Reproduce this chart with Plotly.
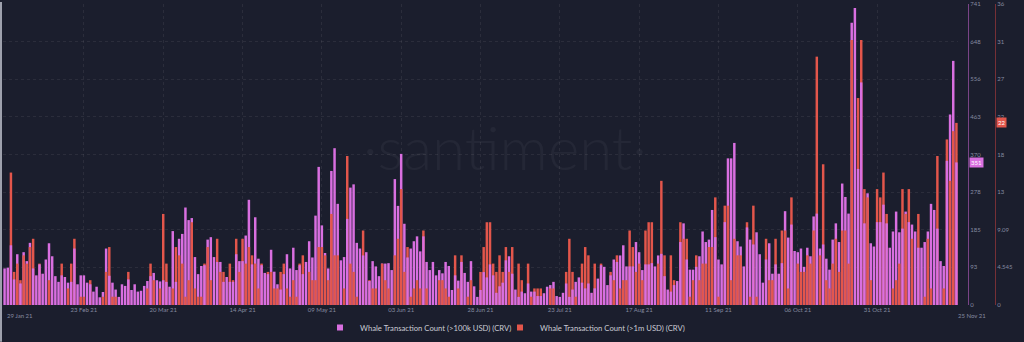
import plotly.graph_objects as go
import pandas as pd
import numpy as np

start_date = "2021-01-29"

pink_values = [
    90, 92, 147, 63, 125, 53, 130, 108, 153, 90, 73, 100, 77, 112, 152, 120, 71, 57, 73, 69,
    55, 57, 139, 51, 73, 73, 55, 51, 33, 45, 19, 32, 139, 72, 55, 38, 20, 51, 47, 63,
    37, 51, 33, 35, 47, 59, 71, 79, 61, 58,
    61, 57, 45, 182, 57, 163, 175, 240, 209, 214, 118, 76, 96, 98, 161, 167, 118, 106, 106, 57,
    69, 57, 57, 125, 108, 108, 171, 259, 100, 216, 114, 98, 79, 76, 136, 82, 51, 38, 76, 125,
    90, 141, 86, 98, 76, 106, 157, 117, 220, 340, 196,
    128, 90, 330, 386, 249, 110, 118, 212, 289, 297, 153, 139, 122, 130, 59, 108, 95, 71, 102, 102,
    103, 86, 310, 244, 372, 200, 117, 139, 157, 169, 132, 169, 106, 86, 106, 73, 86, 78, 106, 96,
    37, 73, 60, 106, 79, 57, 108, 46, 20, 37,
    81, 68, 100, 73, 30, 46, 55, 110, 120, 77, 38, 20, 33, 29, 53, 33, 33, 22, 22, 29,
    45, 49, 57, 22, 20, 30, 53, 20, 38, 57, 68, 55, 41, 53, 30, 41, 65, 98, 94, 49,
    73, 112, 106, 122, 147, 95, 95, 95, 155, 130,
    86, 100, 100, 103, 95, 122, 126, 71, 38, 33, 49, 59, 155, 201, 112, 87, 87, 94, 120, 181,
    155, 161, 234, 167, 112, 100, 204, 361, 361, 399, 157, 144, 95, 191, 161, 149, 179, 125, 55, 112,
    152, 77, 100, 77, 103, 231, 166, 198, 133, 130,
    139, 94, 141, 120, 218, 225, 139, 149, 114, 87, 161, 201, 155, 299, 266, 225, 695, 731, 335, 548,
    201, 275, 152, 144, 204, 204, 247, 201, 141, 181, 230, 179, 188, 230, 204, 198, 181, 141, 141, 155,
    181, 249, 234, 188, 108, 96, 355, 469, 601, 351,
]

red_values = [
    0, 0, 16, 4, 5, 3, 6, 5, 7, 8, 0, 5, 0, 0, 3, 0, 0, 0, 5, 0,
    2, 5, 8, 0, 1, 1, 0, 3, 0, 0, 0, 1, 4, 7, 1, 1, 0, 0, 0, 4,
    0, 0, 0, 0, 0, 2, 5, 3, 0, 2,
    11, 5, 0, 2, 7, 6, 5, 1, 3, 10, 2, 1, 1, 5, 7, 3, 0, 8, 4, 4,
    0, 5, 3, 8, 4, 8, 5, 7, 6, 5, 2, 5, 0, 4, 4, 2, 2, 4, 5, 2,
    1, 3, 1, 5, 6, 0, 4, 3, 3, 7, 7,
    6, 3, 11, 6, 6, 0, 2, 18, 5, 4, 1, 0, 9, 0, 3, 2, 2, 0, 5, 3,
    2, 0, 6, 8, 14, 4, 7, 1, 2, 3, 2, 9, 2, 0, 0, 0, 3, 3, 2, 1,
    0, 6, 2, 6, 0, 1, 3, 0, 0, 4,
    7, 10, 10, 5, 4, 6, 4, 7, 4, 7, 0, 5, 3, 0, 5, 1, 2, 2, 2, 0,
    0, 2, 2, 0, 0, 0, 4, 8, 4, 1, 0, 5, 7, 6, 0, 5, 0, 5, 0, 0,
    4, 3, 6, 2, 3, 3, 9, 7, 4, 5,
    3, 9, 10, 10, 0, 5, 15, 6, 0, 6, 3, 0, 10, 8, 8, 1, 3, 6, 3, 5,
    5, 7, 7, 13, 1, 0, 12, 12, 3, 8, 6, 6, 0, 10, 1, 12, 1, 0, 0, 8,
    3, 3, 8, 0, 9, 9, 2, 13, 0, 5,
    4, 4, 6, 5, 9, 30, 6, 17, 3, 2, 5, 8, 4, 9, 9, 5, 32, 0, 25, 32,
    14, 13, 3, 0, 14, 13, 16, 11, 0, 2, 3, 5, 14, 11, 14, 8, 0, 11, 0, 1,
    8, 2, 0, 18, 0, 2, 20, 15, 21, 22,
]

x_tick_dates = ["2021-02-23", "2021-03-20", "2021-04-14", "2021-05-09", "2021-06-03",
                "2021-06-28", "2021-07-23", "2021-08-17", "2021-09-11", "2021-10-06", "2021-10-31"]
x_tick_text = ["23 Feb 21", "20 Mar 21", "14 Apr 21", "09 May 21", "03 Jun 21",
               "28 Jun 21", "23 Jul 21", "17 Aug 21", "11 Sep 21", "06 Oct 21", "31 Oct 21"]
x_edge_dates = ["2021-01-29", "2021-11-25"]
x_edge_text = ["29 Jan 21", "25 Nov 21"]

pink_max = 741
red_max = 36.36
pink_ticks = [0, 92.625, 185.25, 277.875, 370.5, 463.125, 555.75, 648.375, 741]
pink_tick_text = ["0", "93", "185", "278", "370", "463", "556", "648", "741"]
red_ticks = [0, 4.545, 9.09, 13.635, 18.18, 22.725, 27.27, 31.815, 36.36]
red_tick_text = ["0", "4.545", "9.09", "13", "18", "22", "27", "31", "36"]

PINK_NAME = "Whale Transaction Count (>100k USD) (CRV)"
RED_NAME = "Whale Transaction Count (>1m USD) (CRV)"

BG = "#1b1e2d"
PINK = "#d96fe0"
RED = "#e3564b"
TICK_COLOR = "#858aa0"
FONT = "Lato, 'Open Sans', sans-serif"

n = len(pink_values)
dates = pd.date_range(start_date, periods=n, freq="D")
p = np.array(pink_values, dtype=float)
r = np.array(red_values, dtype=float)

# the shorter (in screen height) of the two bars is drawn in front
pink_taller = (p / pink_max) >= (r / red_max)
pink_back = np.where(pink_taller, p, np.nan)
red_back = np.where(~pink_taller, r, np.nan)
pink_front = np.where(~pink_taller, p, np.nan)
red_front = np.where(pink_taller, r, np.nan)

fig = go.Figure()
fig.add_trace(go.Bar(x=dates, y=pink_back, marker_color=PINK, marker_line_width=0,
                     yaxis="y", showlegend=False, name=PINK_NAME))
fig.add_trace(go.Bar(x=dates, y=red_back, marker_color=RED, marker_line_width=0,
                     yaxis="y2", showlegend=False, name=RED_NAME))
fig.add_trace(go.Bar(x=dates, y=pink_front, marker_color=PINK, marker_line_width=0,
                     yaxis="y3", showlegend=False, name=PINK_NAME))
fig.add_trace(go.Bar(x=dates, y=red_front, marker_color=RED, marker_line_width=0,
                     yaxis="y4", showlegend=False, name=RED_NAME))
# legend entries
fig.add_trace(go.Scatter(x=[None], y=[None], mode="markers", name=PINK_NAME, legend="legend",
                         marker=dict(symbol="square", size=6, color=PINK)))
fig.add_trace(go.Scatter(x=[None], y=[None], mode="markers", name=RED_NAME, legend="legend2",
                         marker=dict(symbol="square", size=6, color=RED)))

L, R, T, B = 3, 0, 2, 37
W, H = 1024, 342
pw = W - L - R
ph = H - T - B
dom_end = (958 - L) / pw
pink_pos = (968 - L) / pw
red_pos = (995 - L) / pw

legend_style = dict(orientation="h", xanchor="left", y=-0.076, yanchor="middle",
                    font=dict(size=7.7, color="#c9cbd4", family=FONT), itemwidth=30,
                    bgcolor="rgba(0,0,0,0)")

grid = "rgba(255,255,255,0.07)"
fig.update_layout(
    width=W, height=H,
    margin=dict(l=L, r=R, t=T, b=B),
    paper_bgcolor=BG, plot_bgcolor=BG,
    barmode="overlay", bargap=0.22,
    font=dict(family=FONT, color=TICK_COLOR, size=6),
    showlegend=True,
    legend=dict(x=(320 - L) / pw, **legend_style),
    legend2=dict(x=(500 - L) / pw, **legend_style),
    xaxis=dict(
        domain=[0, dom_end], type="date",
        range=[pd.Timestamp(start_date) - pd.Timedelta(hours=12),
               dates[-1] + pd.Timedelta(hours=12)],
        tickmode="array", tickvals=x_tick_dates, ticktext=x_tick_text,
        tickfont=dict(size=6, color=TICK_COLOR), ticks="", showline=False,
        showgrid=True, gridcolor=grid, griddash="dot", gridwidth=1, zeroline=False,
    ),
    yaxis=dict(
        range=[0, pink_max], side="right", anchor="free", position=pink_pos,
        tickmode="array", tickvals=pink_ticks, ticktext=pink_tick_text,
        tickfont=dict(size=6, color=TICK_COLOR), ticks="", ticklabeloverflow="allow",
        showline=True, linecolor="rgba(200,100,210,0.55)", linewidth=1,
        showgrid=True, gridcolor=grid, griddash="dot", zeroline=False,
    ),
    yaxis2=dict(
        range=[0, red_max], side="right", anchor="free", position=red_pos, overlaying="y",
        tickmode="array", tickvals=red_ticks, ticktext=red_tick_text,
        tickfont=dict(size=6, color=TICK_COLOR), ticks="", ticklabeloverflow="allow",
        showline=True, linecolor="rgba(180,60,60,0.6)", linewidth=1,
        showgrid=False, zeroline=False,
    ),
    yaxis3=dict(range=[0, pink_max], overlaying="y", visible=False),
    yaxis4=dict(range=[0, red_max], overlaying="y", visible=False),
    shapes=[dict(type="line", xref="paper", yref="paper",
                 x0=(1 - L) / pw, x1=(1 - L) / pw, y0=-B / ph, y1=1 + T / ph,
                 line=dict(color="#9ea1ad", width=2))],
)

# edge date labels (left-aligned at their dates)
for d, t in zip(x_edge_dates, x_edge_text):
    fig.add_annotation(x=d, xref="x", y=0, yref="paper", yshift=-5, text=t,
                       showarrow=False, xanchor="left", yanchor="top",
                       font=dict(size=6, color=TICK_COLOR, family=FONT))

# watermark
fig.add_annotation(x=(505 - L) / pw, xref="paper", y=(305 - 146) / ph, yref="paper",
                   text="·santiment·", showarrow=False, xanchor="center", yanchor="middle",
                   font=dict(size=60, color="rgba(255,255,255,0.045)", family=FONT, weight=300))

# latest-value badges on the axes
fig.add_annotation(x=pink_pos, xref="paper", y=pink_values[-1], yref="y", text=str(pink_values[-1]),
                   showarrow=False, xanchor="left", yanchor="middle", xshift=1,
                   bgcolor=PINK, borderpad=1, font=dict(size=6, color="#ffffff", family=FONT))
fig.add_annotation(x=red_pos, xref="paper", y=red_values[-1], yref="y2", text=str(red_values[-1]),
                   showarrow=False, xanchor="left", yanchor="middle", xshift=1,
                   bgcolor=RED, borderpad=1, font=dict(size=6, color="#ffffff", family=FONT))

fig.write_html("out.html")
